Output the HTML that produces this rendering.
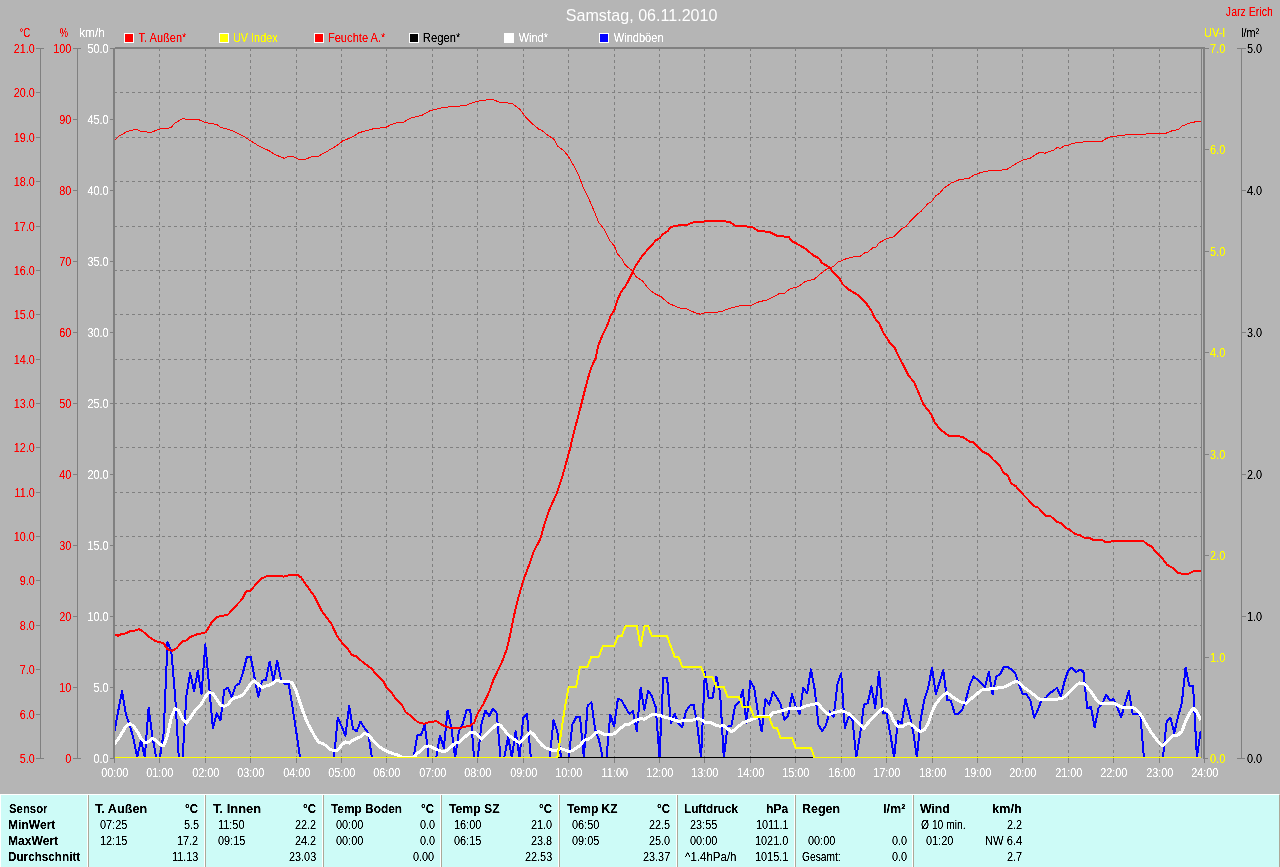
<!DOCTYPE html>
<html lang="de"><head><meta charset="utf-8"><title>Samstag, 06.11.2010</title>
<style>
html,body{margin:0;padding:0;background:#b5b5b5}
body{width:1280px;height:867px;overflow:hidden;position:relative;font-family:"Liberation Sans",sans-serif}
#chart{position:absolute;left:0;top:0;display:block}
#chart text{font-family:"Liberation Sans",sans-serif;font-size:12.5px}
#chart .tx{filter:url(#crisp)}
#stats .t{position:absolute;left:0;top:0;width:1278px;height:72px;filter:url(#crisp)}
.ax{stroke:#808080;stroke-width:1;shape-rendering:crispEdges;fill:none}
.gr{stroke:#808080;stroke-width:1;stroke-dasharray:3 3;shape-rendering:crispEdges;fill:none}
.cv{fill:none;stroke-linejoin:round;stroke-linecap:butt;shape-rendering:crispEdges}
.r{fill:#ff0000}.w{fill:#ffffff}.y{fill:#ffff00}.k{fill:#000000}
#stats{position:absolute;left:0;top:794px;width:1280px;height:73px;background:#cdfbf7;box-sizing:border-box;border-top:1px solid #fff;border-left:1px solid #fff;border-right:1px solid #aca899;font-size:12.5px;color:#000;line-height:16px}
#stats i{position:absolute;top:0;width:1px;height:72px;background:#aca899;box-shadow:-1px 0 0 #fff}
#stats span,#stats b{position:absolute;white-space:nowrap;height:16px;transform-origin:0 0}
</style></head><body>
<svg id="chart" width="1280" height="794" viewBox="0 0 1280 794">
<defs><clipPath id="pc"><rect x="115" y="49" width="1086" height="709"/></clipPath>
<filter id="crisp" x="0" y="0" width="100%" height="100%" color-interpolation-filters="sRGB"><feComponentTransfer><feFuncA type="linear" slope="2.2" intercept="-0.45"/></feComponentTransfer></filter></defs>
<path class="gr" d="M159.5 48V758M205.5 48V758M250.5 48V758M296.5 48V758M341.5 48V758M386.5 48V758M432.5 48V758M477.5 48V758M523.5 48V758M568.5 48V758M614.5 48V758M659.5 48V758M704.5 48V758M750.5 48V758M795.5 48V758M841.5 48V758M886.5 48V758M932.5 48V758M977.5 48V758M1022.5 48V758M1068.5 48V758M1113.5 48V758M1159.5 48V758"/>
<path class="gr" d="M114 714.5H1201M114 669.5H1201M114 625.5H1201M114 580.5H1201M114 536.5H1201M114 492.5H1201M114 447.5H1201M114 403.5H1201M114 359.5H1201M114 314.5H1201M114 270.5H1201M114 226.5H1201M114 181.5H1201M114 137.5H1201M114 92.5H1201"/>
<g clip-path="url(#pc)">
<polyline class="cv" stroke="#0000ff" stroke-width="2" points="114.5,731.3 118.3,710.6 122.1,691.2 125.9,714.7 129.6,724.4 133.4,738.3 137.2,757.5 141.0,739.7 144.8,757.5 148.6,707.8 152.3,735.5 156.1,757.5 159.9,757.5 163.7,732.7 167.5,642.1 171.3,651.1 175.1,695.4 178.8,757.5 182.6,757.5 186.4,695.4 190.2,673.2 194.0,691.2 197.8,671.1 201.5,694.0 205.3,644.2 209.1,685.7 212.9,728.6 216.7,713.4 220.5,720.3 224.3,689.8 228.0,687.8 231.8,697.4 235.6,685.7 239.4,683.6 243.2,671.8 247.0,656.6 250.7,656.6 254.5,677.4 258.3,696.7 262.1,680.8 265.9,679.8 269.7,661.5 273.5,680.8 277.2,660.8 281.0,679.4 284.8,683.6 288.6,683.6 292.4,706.4 296.2,731.3 300.0,757.5 303.7,757.5 307.5,757.5 311.3,757.5 315.1,757.5 318.9,757.5 322.7,757.5 326.4,757.5 330.2,757.5 334.0,757.5 337.8,717.5 341.6,726.5 345.4,735.5 349.2,705.7 352.9,728.6 356.7,731.3 360.5,721.7 364.3,727.9 368.1,732.7 371.9,757.5 375.6,757.5 379.4,757.5 383.2,757.5 387.0,757.5 390.8,757.5 394.6,757.5 398.4,757.5 402.1,757.5 405.9,757.5 409.7,757.5 413.5,757.5 417.3,735.5 421.1,734.8 424.8,724.4 428.6,757.5 432.4,757.5 436.2,757.5 440.0,735.5 443.8,748.0 447.6,710.6 451.3,727.2 455.1,757.5 458.9,731.3 462.7,724.4 466.5,709.9 470.3,709.9 474.0,757.5 477.8,757.5 481.6,723.0 485.4,710.6 489.2,716.1 493.0,708.5 496.8,713.4 500.5,757.5 504.3,757.5 508.1,736.9 511.9,757.5 515.7,731.3 519.5,757.5 523.2,717.5 527.0,714.0 530.8,757.5 534.6,757.5 538.4,757.5 542.2,757.5 546.0,757.5 549.7,757.5 553.5,720.3 557.3,731.3 561.1,757.5 564.9,757.5 568.7,757.5 572.4,724.4 576.2,717.2 580.0,716.7 583.8,757.5 587.6,705.6 591.4,702.4 595.2,729.8 598.9,739.5 602.7,757.5 606.5,757.5 610.3,714.5 614.1,726.6 617.9,698.6 621.6,700.3 625.4,707.2 629.2,713.7 633.0,711.2 636.8,731.4 640.6,687.8 644.4,709.6 648.1,691.0 651.9,695.9 655.7,707.2 659.5,757.5 663.3,677.6 667.1,677.6 670.9,723.3 674.6,713.7 678.4,723.3 682.2,727.4 686.0,711.2 689.8,705.6 693.6,704.8 697.3,725.0 701.1,757.5 704.9,671.7 708.7,698.3 712.5,698.3 716.3,676.5 720.1,692.7 723.8,757.5 727.6,726.6 731.4,725.8 735.2,705.6 739.0,702.4 742.8,690.2 746.5,723.3 750.3,680.6 754.1,687.8 757.9,712.0 761.7,731.4 765.5,699.1 769.3,704.8 773.0,691.9 776.8,697.5 780.6,704.0 784.4,720.1 788.2,715.3 792.0,694.3 795.7,706.4 799.5,713.7 803.3,687.8 807.1,693.5 810.9,669.3 814.7,689.4 818.5,725.0 822.2,731.4 826.0,725.0 829.8,711.2 833.6,716.9 837.4,684.6 841.2,673.3 844.9,728.2 848.7,716.1 852.5,720.1 856.3,757.5 860.1,734.6 863.9,704.8 867.7,703.2 871.4,686.2 875.2,708.0 879.0,671.7 882.8,712.8 886.6,713.7 890.4,734.6 894.1,757.5 897.9,720.9 901.7,723.3 905.5,698.8 909.3,713.7 913.1,731.4 916.9,757.5 920.6,720.1 924.4,699.1 928.2,687.8 932.0,667.6 935.8,694.3 939.6,682.2 943.3,670.1 947.1,699.9 950.9,700.7 954.7,713.7 958.5,713.7 962.3,709.6 966.1,699.1 969.8,684.6 973.6,676.5 977.4,679.7 981.2,683.0 985.0,687.0 988.8,671.7 992.6,694.3 996.3,676.5 1000.1,674.1 1003.9,666.8 1007.7,667.2 1011.5,669.3 1015.3,673.3 1019.0,684.6 1022.8,694.3 1026.6,694.3 1030.4,700.7 1034.2,717.7 1038.0,709.6 1041.8,699.1 1045.5,698.3 1049.3,693.5 1053.1,691.0 1056.9,687.8 1060.7,696.7 1064.5,681.4 1068.2,670.4 1072.0,667.6 1075.8,672.5 1079.6,669.7 1083.4,671.3 1087.2,708.0 1091.0,707.2 1094.7,727.4 1098.5,708.0 1102.3,704.0 1106.1,694.6 1109.9,700.3 1113.7,699.1 1117.4,708.0 1121.2,716.9 1125.0,704.0 1128.8,691.0 1132.6,713.7 1136.4,713.7 1140.2,713.7 1143.9,757.5 1147.7,757.5 1151.5,757.5 1155.3,757.5 1159.1,757.5 1162.9,757.5 1166.6,721.7 1170.4,717.7 1174.2,733.0 1178.0,716.9 1181.8,703.2 1185.6,667.6 1189.4,685.9 1193.1,686.2 1196.9,757.5 1200.7,730.6"/>
<polyline class="cv" stroke="#ffffff" stroke-width="3" points="114.5,743.8 118.3,739.0 122.1,732.7 125.9,726.5 129.6,723.7 133.4,725.8 137.2,731.3 141.0,738.3 144.8,742.7 148.6,741.7 152.3,738.5 156.1,740.3 159.9,744.5 163.7,745.9 167.5,735.5 171.3,717.5 175.1,708.5 178.8,710.6 182.6,718.9 186.4,723.0 190.2,718.2 194.0,712.0 197.8,707.8 201.5,703.7 205.3,696.7 209.1,692.6 212.9,693.3 216.7,699.5 220.5,705.1 224.3,706.4 228.0,704.4 231.8,699.5 235.6,697.4 239.4,696.7 243.2,694.7 247.0,689.1 250.7,683.6 254.5,680.8 258.3,684.3 262.1,687.8 265.9,686.0 269.7,685.0 273.5,682.9 277.2,680.1 281.0,681.5 284.8,681.5 288.6,681.5 292.4,682.9 296.2,691.2 300.0,702.3 303.7,713.4 307.5,723.0 311.3,730.0 315.1,736.9 318.9,742.4 322.7,743.5 326.4,745.9 330.2,749.3 334.0,750.7 337.8,750.0 341.6,745.2 345.4,741.7 349.2,743.1 352.9,740.3 356.7,738.3 360.5,736.9 364.3,733.4 368.1,734.8 371.9,739.0 375.6,743.1 379.4,746.6 383.2,749.3 387.0,751.4 390.8,752.8 394.6,754.2 398.4,755.2 402.1,757.5 405.9,757.5 409.7,757.5 413.5,757.5 417.3,753.5 421.1,750.4 424.8,746.9 428.6,745.9 432.4,747.3 436.2,749.3 440.0,750.7 443.8,751.8 447.6,750.0 451.3,746.6 455.1,743.1 458.9,742.4 462.7,739.0 466.5,735.5 470.3,732.7 474.0,732.0 477.8,735.5 481.6,739.0 485.4,735.5 489.2,731.3 493.0,727.9 496.8,724.4 500.5,725.1 504.3,730.0 508.1,734.8 511.9,737.6 515.7,740.3 519.5,743.1 523.2,739.7 527.0,735.5 530.8,732.0 534.6,735.5 538.4,741.0 542.2,745.2 546.0,748.0 549.7,749.3 553.5,750.7 557.3,750.0 561.1,748.7 564.9,750.0 568.7,751.4 572.4,750.7 576.2,748.1 580.0,745.5 583.8,740.3 587.6,739.5 591.4,737.1 595.2,733.0 598.9,731.4 602.7,733.8 606.5,735.0 610.3,734.6 614.1,733.8 617.9,730.6 621.6,727.4 625.4,724.6 629.2,724.2 633.0,721.7 636.8,720.1 640.6,718.5 644.4,719.3 648.1,716.9 651.9,714.9 655.7,714.9 659.5,715.3 663.3,716.6 667.1,717.7 670.9,718.8 674.6,720.1 678.4,721.4 682.2,720.9 686.0,720.9 689.8,720.9 693.6,719.8 697.3,718.5 701.1,719.3 704.9,722.5 708.7,722.1 712.5,723.3 716.3,725.8 720.1,726.1 723.8,725.8 727.6,729.0 731.4,731.7 735.2,729.4 739.0,725.8 742.8,723.0 746.5,721.4 750.3,720.1 754.1,718.5 757.9,716.9 761.7,716.6 765.5,716.6 769.3,716.9 773.0,712.8 776.8,712.0 780.6,711.2 784.4,710.1 788.2,708.8 792.0,708.5 795.7,708.0 799.5,708.5 803.3,707.2 807.1,705.6 810.9,704.8 814.7,704.0 818.5,703.6 822.2,708.8 826.0,712.8 829.8,714.5 833.6,712.8 837.4,712.0 841.2,710.7 844.9,712.0 848.7,713.7 852.5,716.9 856.3,720.9 860.1,725.0 863.9,728.2 867.7,723.3 871.4,719.3 875.2,715.3 879.0,711.2 882.8,708.8 886.6,709.6 890.4,713.3 894.1,721.7 897.9,726.6 901.7,726.9 905.5,724.6 909.3,723.3 913.1,725.8 916.9,729.8 920.6,731.4 924.4,729.8 928.2,723.3 932.0,712.0 935.8,704.0 939.6,699.1 943.3,695.1 947.1,692.7 950.9,695.6 954.7,698.3 958.5,700.7 962.3,702.7 966.1,703.2 969.8,699.9 973.6,696.7 977.4,693.5 981.2,690.2 985.0,689.4 988.8,689.1 992.6,688.6 996.3,688.1 1000.1,687.8 1003.9,687.0 1007.7,685.4 1011.5,683.3 1015.3,681.7 1019.0,682.2 1022.8,686.2 1026.6,689.4 1030.4,691.9 1034.2,695.1 1038.0,698.3 1041.8,699.9 1045.5,699.9 1049.3,699.9 1053.1,699.6 1056.9,699.1 1060.7,698.8 1064.5,696.7 1068.2,693.5 1072.0,689.4 1075.8,685.4 1079.6,683.0 1083.4,683.3 1087.2,687.0 1091.0,691.9 1094.7,697.5 1098.5,702.4 1102.3,704.0 1106.1,703.6 1109.9,703.2 1113.7,703.2 1117.4,704.8 1121.2,706.9 1125.0,708.0 1128.8,707.5 1132.6,707.2 1136.4,709.6 1140.2,713.7 1143.9,720.1 1147.7,726.6 1151.5,733.0 1155.3,737.9 1159.1,742.7 1162.9,746.0 1166.6,741.9 1170.4,737.9 1174.2,735.0 1178.0,735.0 1181.8,731.4 1185.6,721.7 1189.4,713.7 1193.1,708.0 1196.9,712.0 1200.7,720.1"/>
<polyline class="cv" stroke="#000000" stroke-width="2" points="114.5,758 1200.7,758"/>
<polyline class="cv" stroke="#ff0000" stroke-width="1" points="114.1,140.4 119.4,135.9 126.9,131.6 136.2,129.3 140.9,131.2 150.3,132.5 160.6,128.8 170.9,127.8 174.7,123.1 183.1,118.4 185.9,119.4 198.1,119.4 205.6,122.6 216.9,124.6 220.6,127.2 231.9,130.6 243.1,135.9 250.6,140.9 260.0,146.6 269.4,150.9 275.0,154.6 284.4,158.4 288.1,156.3 292.8,156.3 298.4,159.3 305.0,159.3 311.6,156.9 318.1,156.3 325.6,152.2 336.9,145.6 343.4,140.4 345.6,139.8 352.2,137.1 358.8,132.8 366.2,130.6 373.8,128.7 385.9,127.4 390.6,124.8 398.1,122.5 403.8,122.1 410.3,118.2 422.5,115.0 430.0,110.7 441.2,107.9 450.6,106.6 460.0,106.0 466.6,105.1 472.2,102.8 480.6,100.6 486.2,100.0 492.8,99.4 499.4,102.2 505.9,102.6 512.5,103.8 520.0,109.4 526.6,118.2 533.1,124.4 538.8,129.1 542.5,130.9 548.1,135.6 553.8,139.0 557.5,145.9 563.1,150.2 567.8,155.3 574.7,167.5 579.7,177.8 583.4,188.1 589.1,199.4 594.7,212.5 598.4,221.9 604.1,229.4 609.7,240.6 614.4,245.9 617.2,253.4 621.9,259.0 625.6,265.4 632.2,270.6 635.9,276.6 642.5,280.9 648.1,288.4 653.8,293.1 661.2,296.9 668.8,303.4 680.0,308.1 687.5,309.1 695.0,312.8 700.6,314.3 705.3,312.4 715.6,312.4 723.1,310.9 728.8,308.7 740.0,305.7 751.2,305.3 758.8,301.9 768.1,299.7 779.4,293.5 784.1,293.5 789.7,289.0 798.4,286.6 805.0,281.6 814.4,279.1 820.9,273.5 827.5,268.4 833.1,266.6 837.8,262.2 846.2,258.7 854.7,256.6 860.3,256.2 864.1,253.1 867.8,252.1 872.5,248.0 876.2,246.9 879.1,242.8 886.6,238.8 894.1,236.6 901.6,228.7 906.2,226.2 910.0,221.6 917.5,214.1 921.2,211.2 927.8,203.8 932.5,200.9 935.3,196.2 940.0,192.9 943.8,188.2 951.2,183.1 958.8,179.9 969.1,178.2 973.8,175.2 981.2,172.4 990.6,170.6 1000.0,170.4 1007.5,169.1 1016.9,163.1 1024.4,159.4 1030.0,158.4 1037.5,153.4 1040.3,152.2 1045.0,153.2 1048.8,151.5 1053.4,150.4 1057.2,147.4 1060.0,148.5 1064.7,145.7 1068.4,145.3 1072.2,143.4 1078.8,142.5 1086.2,141.6 1102.2,141.2 1106.9,138.2 1112.5,136.3 1120.0,135.8 1128.4,134.4 1144.4,134.4 1148.1,133.5 1165.9,133.3 1170.6,131.2 1178.1,129.6 1181.9,126.2 1191.2,122.4 1200.6,121.3"/>
<polyline class="cv" stroke="#ffff00" stroke-width="2" points="114.5,758.0 118.3,758.0 122.1,758.0 125.9,758.0 129.6,758.0 133.4,758.0 137.2,758.0 141.0,758.0 144.8,758.0 148.6,758.0 152.3,758.0 156.1,758.0 159.9,758.0 163.7,758.0 167.5,758.0 171.3,758.0 175.1,758.0 178.8,758.0 182.6,758.0 186.4,758.0 190.2,758.0 194.0,758.0 197.8,758.0 201.5,758.0 205.3,758.0 209.1,758.0 212.9,758.0 216.7,758.0 220.5,758.0 224.3,758.0 228.0,758.0 231.8,758.0 235.6,758.0 239.4,758.0 243.2,758.0 247.0,758.0 250.7,758.0 254.5,758.0 258.3,758.0 262.1,758.0 265.9,758.0 269.7,758.0 273.5,758.0 277.2,758.0 281.0,758.0 284.8,758.0 288.6,758.0 292.4,758.0 296.2,758.0 300.0,758.0 303.7,758.0 307.5,758.0 311.3,758.0 315.1,758.0 318.9,758.0 322.7,758.0 326.4,758.0 330.2,758.0 334.0,758.0 337.8,758.0 341.6,758.0 345.4,758.0 349.2,758.0 352.9,758.0 356.7,758.0 360.5,758.0 364.3,758.0 368.1,758.0 371.9,758.0 375.6,758.0 379.4,758.0 383.2,758.0 387.0,758.0 390.8,758.0 394.6,758.0 398.4,758.0 402.1,758.0 405.9,758.0 409.7,758.0 413.5,758.0 417.3,758.0 421.1,758.0 424.8,758.0 428.6,758.0 432.4,758.0 436.2,758.0 440.0,758.0 443.8,758.0 447.6,758.0 451.3,758.0 455.1,758.0 458.9,758.0 462.7,758.0 466.5,758.0 470.3,758.0 474.0,758.0 477.8,758.0 481.6,758.0 485.4,758.0 489.2,758.0 493.0,758.0 496.8,758.0 500.5,758.0 504.3,758.0 508.1,758.0 511.9,758.0 515.7,758.0 519.5,758.0 523.2,758.0 527.0,758.0 530.8,758.0 534.6,758.0 538.4,758.0 542.2,758.0 546.0,758.0 549.7,758.0 553.5,758.0 557.3,758.0 561.1,732.6 564.9,707.3 568.7,687.0 572.4,687.0 576.2,687.0 580.0,666.7 583.8,666.7 587.6,666.7 591.4,656.6 595.2,656.6 598.9,656.6 602.7,646.4 606.5,646.4 610.3,646.4 614.1,646.4 617.9,636.3 621.6,636.3 625.4,626.1 629.2,626.1 633.0,626.1 636.8,626.1 640.6,646.4 644.4,626.1 648.1,626.1 651.9,636.3 655.7,636.3 659.5,636.3 663.3,636.3 667.1,636.3 670.9,646.4 674.6,656.6 678.4,656.6 682.2,666.7 686.0,666.7 689.8,666.7 693.6,666.7 697.3,666.7 701.1,666.7 704.9,676.9 708.7,676.9 712.5,676.9 716.3,687.0 720.1,687.0 723.8,687.0 727.6,697.1 731.4,697.1 735.2,697.1 739.0,697.1 742.8,707.3 746.5,707.3 750.3,707.3 754.1,717.4 757.9,717.4 761.7,717.4 765.5,717.4 769.3,717.4 773.0,727.6 776.8,727.6 780.6,737.7 784.4,737.7 788.2,737.7 792.0,737.7 795.7,747.9 799.5,747.9 803.3,747.9 807.1,747.9 810.9,747.9 814.7,758.0 818.5,758.0 822.2,758.0 826.0,758.0 829.8,758.0 833.6,758.0 837.4,758.0 841.2,758.0 844.9,758.0 848.7,758.0 852.5,758.0 856.3,758.0 860.1,758.0 863.9,758.0 867.7,758.0 871.4,758.0 875.2,758.0 879.0,758.0 882.8,758.0 886.6,758.0 890.4,758.0 894.1,758.0 897.9,758.0 901.7,758.0 905.5,758.0 909.3,758.0 913.1,758.0 916.9,758.0 920.6,758.0 924.4,758.0 928.2,758.0 932.0,758.0 935.8,758.0 939.6,758.0 943.3,758.0 947.1,758.0 950.9,758.0 954.7,758.0 958.5,758.0 962.3,758.0 966.1,758.0 969.8,758.0 973.6,758.0 977.4,758.0 981.2,758.0 985.0,758.0 988.8,758.0 992.6,758.0 996.3,758.0 1000.1,758.0 1003.9,758.0 1007.7,758.0 1011.5,758.0 1015.3,758.0 1019.0,758.0 1022.8,758.0 1026.6,758.0 1030.4,758.0 1034.2,758.0 1038.0,758.0 1041.8,758.0 1045.5,758.0 1049.3,758.0 1053.1,758.0 1056.9,758.0 1060.7,758.0 1064.5,758.0 1068.2,758.0 1072.0,758.0 1075.8,758.0 1079.6,758.0 1083.4,758.0 1087.2,758.0 1091.0,758.0 1094.7,758.0 1098.5,758.0 1102.3,758.0 1106.1,758.0 1109.9,758.0 1113.7,758.0 1117.4,758.0 1121.2,758.0 1125.0,758.0 1128.8,758.0 1132.6,758.0 1136.4,758.0 1140.2,758.0 1143.9,758.0 1147.7,758.0 1151.5,758.0 1155.3,758.0 1159.1,758.0 1162.9,758.0 1166.6,758.0 1170.4,758.0 1174.2,758.0 1178.0,758.0 1181.8,758.0 1185.6,758.0 1189.4,758.0 1193.1,758.0 1196.9,758.0 1200.7,758.0"/>
<polyline class="cv" stroke="#ff0000" stroke-width="2" points="114.7,635.2 118.4,635.6 121.2,634.1 125.9,633.4 129.7,631.3 134.4,630.6 139.1,629.2 142.8,631.3 148.4,636.6 155.9,641.2 163.4,643.1 167.2,648.8 171.9,651.0 176.6,648.2 182.2,641.6 185.9,640.7 190.6,636.9 197.2,634.3 205.6,632.4 212.2,621.6 216.9,616.9 222.5,615.9 228.1,614.6 234.7,607.1 242.2,599.1 245.9,591.6 250.6,590.6 258.1,581.6 261.9,578.4 268.4,575.6 280.6,575.6 283.4,576.6 290.0,574.9 297.5,574.9 301.2,577.5 306.9,585.9 314.4,596.2 321.9,611.2 331.2,623.4 336.9,635.6 341.6,642.2 348.4,649.7 352.2,655.3 355.9,655.9 362.5,661.9 371.9,669.0 377.5,675.9 384.1,682.5 386.9,688.1 391.6,692.8 396.2,699.4 401.9,705.0 405.6,712.1 411.2,716.2 417.8,722.2 424.4,723.8 430.0,721.9 436.6,721.3 442.2,725.1 451.6,728.4 460.0,727.9 470.3,725.6 474.1,722.8 477.8,713.4 483.4,704.1 489.1,691.9 493.8,678.8 501.2,663.8 506.9,648.8 510.6,632.8 513.4,618.8 515.0,611.2 518.8,596.2 523.4,580.3 530.0,562.5 533.8,551.2 540.3,539.1 545.0,522.2 548.8,510.9 557.2,492.2 561.9,478.1 566.1,463.1 570.3,447.6 574.1,431.2 577.8,418.1 581.6,403.1 584.4,391.9 588.1,377.8 590.9,368.4 595.6,358.1 598.1,345.9 602.2,335.6 606.9,326.2 610.6,315.9 614.4,310.0 617.2,300.6 620.9,292.2 625.6,286.0 631.2,275.3 635.0,266.9 642.5,255.6 646.2,251.3 652.8,244.0 655.6,240.6 659.4,238.4 663.1,234.1 667.8,230.9 670.6,226.9 680.0,225.2 687.5,224.7 691.2,222.8 696.9,221.9 704.4,221.5 708.1,220.9 721.2,220.9 729.7,221.9 735.3,225.6 744.7,226.2 753.1,227.5 757.8,230.9 769.1,231.8 777.5,235.9 788.8,236.9 791.6,241.0 798.4,244.6 806.9,249.7 812.5,254.8 819.1,258.5 821.9,262.8 829.4,267.5 834.1,273.1 839.7,278.8 842.5,284.0 848.1,289.4 849.4,290.0 858.8,295.6 865.3,302.2 870.9,309.7 874.7,318.1 879.4,323.8 883.1,332.2 889.7,342.5 894.4,347.2 899.1,357.5 903.8,365.9 908.4,375.3 914.1,382.2 918.8,393.1 923.4,404.4 930.9,413.8 934.7,422.2 939.4,428.8 948.8,435.7 958.1,435.9 962.8,437.2 969.4,441.5 973.1,441.9 982.2,451.6 988.8,454.4 993.4,460.0 999.1,464.7 1003.8,473.1 1007.5,475.0 1011.2,483.4 1015.9,486.2 1020.6,491.9 1034.7,506.5 1037.5,506.9 1045.9,515.9 1050.6,516.2 1057.2,521.9 1060.9,523.2 1065.6,527.9 1069.4,529.4 1075.0,534.1 1079.7,535.0 1084.4,537.8 1090.0,538.2 1093.8,540.1 1102.2,540.1 1105.0,541.9 1109.7,541.9 1112.5,541.0 1143.4,541.0 1147.2,544.4 1151.9,546.6 1155.6,551.9 1163.1,559.4 1166.9,564.6 1172.5,567.8 1178.1,572.9 1181.9,573.8 1188.4,573.8 1194.1,571.0 1201.6,571.0"/>
</g>
<rect x="113" y="48" width="2" height="710" fill="#808080"/>
<rect x="115" y="47" width="1090" height="2" fill="#808080"/>
<rect x="1201" y="47" width="1" height="711" fill="#808080"/>
<rect x="1203" y="47" width="2" height="712" fill="#808080"/>
<path class="ax" d="M40.5 48V759M36 758.5H44M36 714.5H41M36 669.5H41M36 625.5H41M36 580.5H41M36 536.5H41M36 492.5H41M36 447.5H41M36 403.5H41M36 359.5H41M36 314.5H41M36 270.5H41M36 226.5H41M36 181.5H41M36 137.5H41M36 92.5H41M36 48.5H44M77.5 48V759M73 758.5H81M73 687.5H78M73 616.5H78M73 545.5H78M73 474.5H78M73 403.5H78M73 332.5H78M73 261.5H78M73 190.5H78M73 119.5H78M73 48.5H81M110 758.5H114M110 687.5H114M110 616.5H114M110 545.5H114M110 474.5H114M110 403.5H114M110 332.5H114M110 261.5H114M110 190.5H114M110 119.5H114M110 48.5H114M1205 758.5H1208M1205 657.5H1209M1205 555.5H1209M1205 454.5H1209M1205 352.5H1209M1205 251.5H1209M1205 149.5H1209M1205 48.5H1209M1241.5 48V759M1237 758.5H1245M1241 616.5H1246M1241 474.5H1246M1241 332.5H1246M1241 190.5H1246M1237 48.5H1246M114.5 758V763M159.5 758V763M205.5 758V763M250.5 758V763M296.5 758V763M341.5 758V763M386.5 758V763M432.5 758V763M477.5 758V763M523.5 758V763M568.5 758V763M614.5 758V763M659.5 758V763M704.5 758V763M750.5 758V763M795.5 758V763M841.5 758V763M886.5 758V763M932.5 758V763M977.5 758V763M1022.5 758V763M1068.5 758V763M1113.5 758V763M1159.5 758V763M1204.5 758V763"/>
<text class="w" transform="translate(565.78 21) scale(1.0053 1)" style="font-size:16px">Samstag, 06.11.2010</text>
<g class="tx">
<text class="r" transform="translate(19.78 763) scale(0.87 1)">5.0</text>
<text class="r" transform="translate(19.78 719) scale(0.87 1)">6.0</text>
<text class="r" transform="translate(19.78 674) scale(0.87 1)">7.0</text>
<text class="r" transform="translate(19.78 630) scale(0.87 1)">8.0</text>
<text class="r" transform="translate(19.78 585) scale(0.87 1)">9.0</text>
<text class="r" transform="translate(13.73 541) scale(0.87 1)">10.0</text>
<text class="r" transform="translate(14.54 497) scale(0.87 1)">11.0</text>
<text class="r" transform="translate(13.73 452) scale(0.87 1)">12.0</text>
<text class="r" transform="translate(13.73 408) scale(0.87 1)">13.0</text>
<text class="r" transform="translate(13.73 364) scale(0.87 1)">14.0</text>
<text class="r" transform="translate(13.73 319) scale(0.87 1)">15.0</text>
<text class="r" transform="translate(13.73 275) scale(0.87 1)">16.0</text>
<text class="r" transform="translate(13.73 231) scale(0.87 1)">17.0</text>
<text class="r" transform="translate(13.73 186) scale(0.87 1)">18.0</text>
<text class="r" transform="translate(13.73 142) scale(0.87 1)">19.0</text>
<text class="r" transform="translate(13.73 97) scale(0.87 1)">20.0</text>
<text class="r" transform="translate(13.73 53) scale(0.87 1)">21.0</text>
<text class="r" transform="translate(65.35 763) scale(0.87 1)">0</text>
<text class="w" transform="translate(93.48 763) scale(0.87 1)">0.0</text>
<text class="r" transform="translate(59.3 692) scale(0.87 1)">10</text>
<text class="w" transform="translate(93.48 692) scale(0.87 1)">5.0</text>
<text class="r" transform="translate(59.3 621) scale(0.87 1)">20</text>
<text class="w" transform="translate(87.43 621) scale(0.87 1)">10.0</text>
<text class="r" transform="translate(59.3 550) scale(0.87 1)">30</text>
<text class="w" transform="translate(87.43 550) scale(0.87 1)">15.0</text>
<text class="r" transform="translate(59.3 479) scale(0.87 1)">40</text>
<text class="w" transform="translate(87.43 479) scale(0.87 1)">20.0</text>
<text class="r" transform="translate(59.3 408) scale(0.87 1)">50</text>
<text class="w" transform="translate(87.43 408) scale(0.87 1)">25.0</text>
<text class="r" transform="translate(59.3 337) scale(0.87 1)">60</text>
<text class="w" transform="translate(87.43 337) scale(0.87 1)">30.0</text>
<text class="r" transform="translate(59.3 266) scale(0.87 1)">70</text>
<text class="w" transform="translate(87.43 266) scale(0.87 1)">35.0</text>
<text class="r" transform="translate(59.3 195) scale(0.87 1)">80</text>
<text class="w" transform="translate(87.43 195) scale(0.87 1)">40.0</text>
<text class="r" transform="translate(59.3 124) scale(0.87 1)">90</text>
<text class="w" transform="translate(87.43 124) scale(0.87 1)">45.0</text>
<text class="r" transform="translate(53.25 53) scale(0.87 1)">100</text>
<text class="w" transform="translate(87.43 53) scale(0.87 1)">50.0</text>
<text class="y" transform="translate(1210.1 763) scale(0.87 1)">0.0</text>
<text class="y" transform="translate(1210.1 662) scale(0.87 1)">1.0</text>
<text class="y" transform="translate(1210.1 560) scale(0.87 1)">2.0</text>
<text class="y" transform="translate(1210.1 459) scale(0.87 1)">3.0</text>
<text class="y" transform="translate(1210.1 357) scale(0.87 1)">4.0</text>
<text class="y" transform="translate(1210.1 256) scale(0.87 1)">5.0</text>
<text class="y" transform="translate(1210.1 154) scale(0.87 1)">6.0</text>
<text class="y" transform="translate(1210.1 53) scale(0.87 1)">7.0</text>
<text class="k" transform="translate(1247.0 763) scale(0.87 1)">0.0</text>
<text class="k" transform="translate(1247.0 621) scale(0.87 1)">1.0</text>
<text class="k" transform="translate(1247.0 479) scale(0.87 1)">2.0</text>
<text class="k" transform="translate(1247.0 337) scale(0.87 1)">3.0</text>
<text class="k" transform="translate(1247.0 195) scale(0.87 1)">4.0</text>
<text class="k" transform="translate(1247.0 53) scale(0.87 1)">5.0</text>
<text class="w" transform="translate(101.18 777) scale(0.871 1)">00:00</text>
<text class="w" transform="translate(146.18 777) scale(0.871 1)">01:00</text>
<text class="w" transform="translate(192.18 777) scale(0.871 1)">02:00</text>
<text class="w" transform="translate(237.18 777) scale(0.871 1)">03:00</text>
<text class="w" transform="translate(283.18 777) scale(0.871 1)">04:00</text>
<text class="w" transform="translate(328.18 777) scale(0.871 1)">05:00</text>
<text class="w" transform="translate(373.18 777) scale(0.871 1)">06:00</text>
<text class="w" transform="translate(419.18 777) scale(0.871 1)">07:00</text>
<text class="w" transform="translate(464.18 777) scale(0.871 1)">08:00</text>
<text class="w" transform="translate(510.18 777) scale(0.871 1)">09:00</text>
<text class="w" transform="translate(555.18 777) scale(0.871 1)">10:00</text>
<text class="w" transform="translate(601.58 777) scale(0.871 1)">11:00</text>
<text class="w" transform="translate(646.18 777) scale(0.871 1)">12:00</text>
<text class="w" transform="translate(691.18 777) scale(0.871 1)">13:00</text>
<text class="w" transform="translate(737.18 777) scale(0.871 1)">14:00</text>
<text class="w" transform="translate(782.18 777) scale(0.871 1)">15:00</text>
<text class="w" transform="translate(828.18 777) scale(0.871 1)">16:00</text>
<text class="w" transform="translate(873.18 777) scale(0.871 1)">17:00</text>
<text class="w" transform="translate(919.18 777) scale(0.871 1)">18:00</text>
<text class="w" transform="translate(964.18 777) scale(0.871 1)">19:00</text>
<text class="w" transform="translate(1009.18 777) scale(0.871 1)">20:00</text>
<text class="w" transform="translate(1055.18 777) scale(0.871 1)">21:00</text>
<text class="w" transform="translate(1100.18 777) scale(0.871 1)">22:00</text>
<text class="w" transform="translate(1146.18 777) scale(0.871 1)">23:00</text>
<text class="w" transform="translate(1191.18 777) scale(0.871 1)">24:00</text>
<text class="r" transform="translate(19.41 37) scale(0.7805 1)">°C</text>
<text class="r" transform="translate(59.68 37) scale(0.7415 1)">%</text>
<text class="w" transform="translate(79.2 37) scale(0.9435 1)">km/h</text>
<text class="y" transform="translate(1203.94 37) scale(0.8834 1)">UV-I</text>
<text class="k" transform="translate(1241.17 37) scale(0.8658 1)">l/m²</text>
<text class="r" transform="translate(1225.84 16) scale(0.8481 1)">Jarz Erich</text>
<rect x="124" y="33" width="10" height="10" fill="#ffffff"/><rect x="125" y="34" width="8" height="8" fill="#ff0000"/>
<text class="r" transform="translate(138.55 42) scale(0.8842 1)">T. Außen*</text>
<rect x="219" y="33" width="10" height="10" fill="#ffffff"/><rect x="220" y="34" width="8" height="8" fill="#ffff00"/>
<text class="y" transform="translate(232.96 42) scale(0.8706 1)">UV Index</text>
<rect x="314" y="33" width="10" height="10" fill="#ffffff"/><rect x="315" y="34" width="8" height="8" fill="#ff0000"/>
<text class="r" transform="translate(327.88 42) scale(0.8915 1)">Feuchte A.*</text>
<rect x="409" y="33" width="10" height="10" fill="#ffffff"/><rect x="410" y="34" width="8" height="8" fill="#000000"/>
<text class="k" transform="translate(422.87 42) scale(0.9019 1)">Regen*</text>
<rect x="504" y="33" width="10" height="10" fill="#ffffff"/><rect x="505" y="34" width="8" height="8" fill="#ffffff"/>
<text class="w" transform="translate(518.75 42) scale(0.8771 1)">Wind*</text>
<rect x="599" y="33" width="10" height="10" fill="#ffffff"/><rect x="600" y="34" width="8" height="8" fill="#0000ff"/>
<text class="w" transform="translate(613.74 42) scale(0.8857 1)">Windböen</text>
</g>
</svg>
<div id="stats">
<i style="left:87px"></i>
<i style="left:204px"></i>
<i style="left:322px"></i>
<i style="left:440px"></i>
<i style="left:558px"></i>
<i style="left:676px"></i>
<i style="left:794px"></i>
<i style="left:912px"></i>
<div class="t">
<b style="left:7.59px;top:6px;transform:scaleX(0.9081)">Sensor</b>
<b style="left:7.09px;top:22px;transform:scaleX(0.9648)">MinWert</b>
<b style="left:7.08px;top:38px;transform:scaleX(0.9665)">MaxWert</b>
<b style="left:7.11px;top:54px;transform:scaleX(0.9366)">Durchschnitt</b>
<b style="left:93.87px;top:6px;transform:scaleX(1.0095)">T. Außen</b>
<b style="left:184.41px;top:6px;transform:scaleX(0.9273)">°C</b>
<span style="left:99.4px;top:22px;transform:scaleX(0.871)">07:25</span>
<span style="left:182.53px;top:22px;transform:scaleX(0.87)">5.5</span>
<span style="left:99.4px;top:38px;transform:scaleX(0.871)">12:15</span>
<span style="left:176.48px;top:38px;transform:scaleX(0.87)">17.2</span>
<span style="left:171.24px;top:54px;transform:scaleX(0.87)">11.13</span>
<b style="left:211.87px;top:6px;transform:scaleX(1.0338)">T. Innen</b>
<b style="left:302.41px;top:6px;transform:scaleX(0.9273)">°C</b>
<span style="left:217.4px;top:22px;transform:scaleX(0.871)">11:50</span>
<span style="left:294.48px;top:22px;transform:scaleX(0.87)">22.2</span>
<span style="left:217.4px;top:38px;transform:scaleX(0.871)">09:15</span>
<span style="left:294.48px;top:38px;transform:scaleX(0.87)">24.2</span>
<span style="left:288.43px;top:54px;transform:scaleX(0.87)">23.03</span>
<b style="left:329.88px;top:6px;transform:scaleX(0.9503)">Temp Boden</b>
<b style="left:420.41px;top:6px;transform:scaleX(0.9273)">°C</b>
<span style="left:335.4px;top:22px;transform:scaleX(0.871)">00:00</span>
<span style="left:418.53px;top:22px;transform:scaleX(0.87)">0.0</span>
<span style="left:335.4px;top:38px;transform:scaleX(0.871)">00:00</span>
<span style="left:418.53px;top:38px;transform:scaleX(0.87)">0.0</span>
<span style="left:412.48px;top:54px;transform:scaleX(0.87)">0.00</span>
<b style="left:447.88px;top:6px;transform:scaleX(0.9771)">Temp SZ</b>
<b style="left:538.41px;top:6px;transform:scaleX(0.9273)">°C</b>
<span style="left:453.4px;top:22px;transform:scaleX(0.871)">16:00</span>
<span style="left:530.48px;top:22px;transform:scaleX(0.87)">21.0</span>
<span style="left:453.4px;top:38px;transform:scaleX(0.871)">06:15</span>
<span style="left:530.48px;top:38px;transform:scaleX(0.87)">23.8</span>
<span style="left:524.43px;top:54px;transform:scaleX(0.87)">22.53</span>
<b style="left:565.88px;top:6px;transform:scaleX(0.9642)">Temp KZ</b>
<b style="left:656.41px;top:6px;transform:scaleX(0.9273)">°C</b>
<span style="left:571.4px;top:22px;transform:scaleX(0.871)">06:50</span>
<span style="left:648.48px;top:22px;transform:scaleX(0.87)">22.5</span>
<span style="left:571.4px;top:38px;transform:scaleX(0.871)">09:05</span>
<span style="left:648.48px;top:38px;transform:scaleX(0.87)">25.0</span>
<span style="left:642.43px;top:54px;transform:scaleX(0.87)">23.37</span>
<b style="left:683.01px;top:6px;transform:scaleX(0.9364)">Luftdruck</b>
<b style="left:764.95px;top:6px;transform:scaleX(0.9672)">hPa</b>
<span style="left:689.4px;top:22px;transform:scaleX(0.871)">23:55</span>
<span style="left:755.19px;top:22px;transform:scaleX(0.87)">1011.1</span>
<span style="left:689.4px;top:38px;transform:scaleX(0.871)">00:00</span>
<span style="left:754.39px;top:38px;transform:scaleX(0.87)">1021.0</span>
<span style="left:683.84px;top:54px;transform:scaleX(0.9208)">^1.4hPa/h</span>
<span style="left:754.39px;top:54px;transform:scaleX(0.87)">1015.1</span>
<b style="left:800.96px;top:6px;transform:scaleX(0.9947)">Regen</b>
<b style="left:881.92px;top:6px;transform:scaleX(1.005)">l/m²</b>
<span style="left:807.4px;top:38px;transform:scaleX(0.871)">00:00</span>
<span style="left:890.53px;top:38px;transform:scaleX(0.87)">0.0</span>
<span style="left:801.39px;top:54px;transform:scaleX(0.8181)">Gesamt:</span>
<span style="left:890.53px;top:54px;transform:scaleX(0.87)">0.0</span>
<b style="left:919.2px;top:6px;transform:scaleX(0.9789)">Wind</b>
<b style="left:991.1px;top:6px;transform:scaleX(1.0243)">km/h</b>
<span style="left:919.54px;top:22px;transform:scaleX(0.8247)">Ø 10 min.</span>
<span style="left:1006.33px;top:22px;transform:scaleX(0.87)">2.2</span>
<span style="left:925.4px;top:38px;transform:scaleX(0.871)">01:20</span>
<span style="left:984.08px;top:38px;transform:scaleX(0.8937)">NW 6.4</span>
<span style="left:1006.33px;top:54px;transform:scaleX(0.87)">2.7</span>
</div>
</div>
</body></html>
